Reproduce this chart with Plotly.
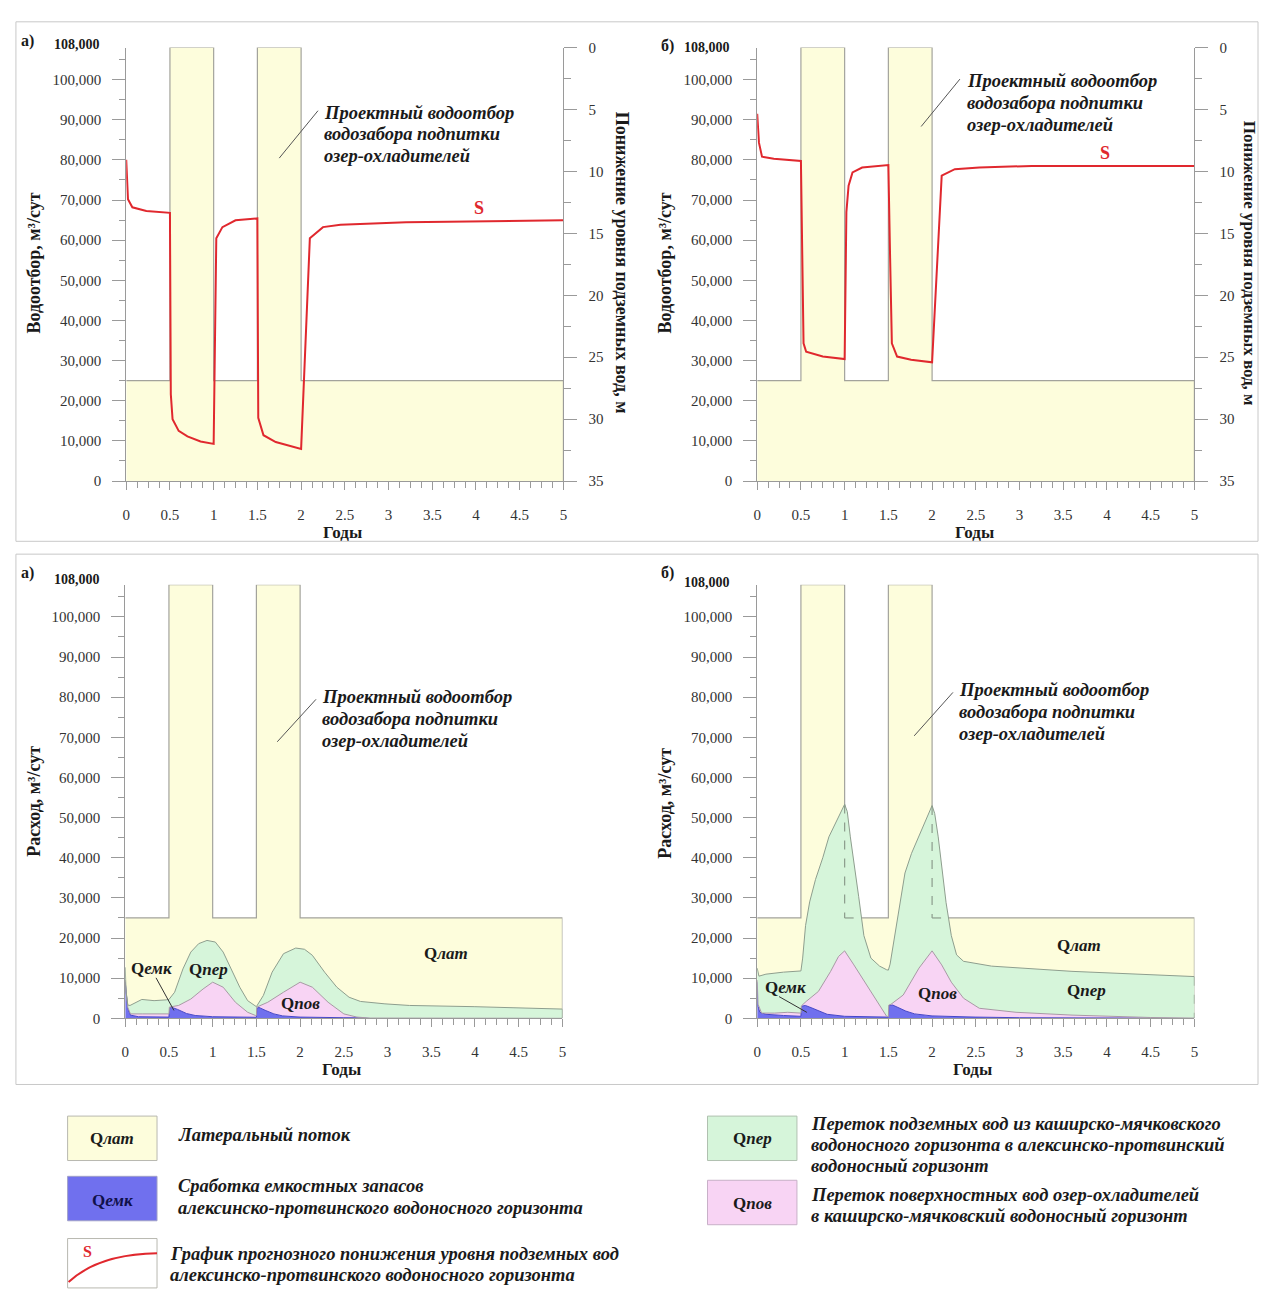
import numpy as np
import plotly.graph_objects as go

W, H = 1263, 1290

# ---------------- data ----------------
# design pumping schedule (total discharge, m3/day), step function
pump_t = [0.0, 0.5, 1.0, 1.5, 2.0, 5.0]
pump_q = [25000, 108000, 25000, 108000, 25000, 25000]

# drawdown S (m), panel a
s_a_t = [0, 0.02, 0.07, 0.23, 0.5, 0.51, 0.53, 0.55, 0.6, 0.7, 0.85, 1.0,
         1.01, 1.02, 1.03, 1.1, 1.25, 1.5, 1.51, 1.57, 1.71, 2.0,
         2.1, 2.25, 2.45, 3.2, 5.0]
s_a_v = [9.07, 12.25, 12.90, 13.19, 13.35, 28.0, 30.0, 30.3, 30.95, 31.4, 31.8, 32.0,
         25.0, 18.5, 15.4, 14.5, 13.95, 13.8, 29.9, 31.3, 31.85, 32.4,
         15.4, 14.5, 14.3, 14.1, 13.95]

# drawdown S (m), panel b
s_b_t = [0, 0.02, 0.055, 0.19, 0.5, 0.53, 0.56, 0.75, 1.0,
         1.02, 1.045, 1.09, 1.2, 1.5, 1.52, 1.54, 1.6, 1.76, 2.0,
         2.11, 2.26, 2.54, 3.14, 5.0]
s_b_v = [5.35, 7.68, 8.81, 8.98, 9.16, 23.88, 24.56, 24.95, 25.15,
         13.29, 11.15, 10.08, 9.69, 9.49, 16.98, 23.88, 24.95, 25.21, 25.41,
         10.34, 9.82, 9.69, 9.56, 9.56]

# balance, panel a (cumulative upper boundaries of layers, m3/day)
a_emk_t = [0, 0.01, 0.03, 0.06, 0.15, 0.5, 0.505, 0.53, 0.6, 0.7, 0.8, 1.0, 1.5,
           1.505, 1.53, 1.6, 1.7, 1.8, 2.0, 2.5, 3.0, 4.2, 5.0]
a_emk_v = [9000, 6000, 2500, 800, 400, 300, 2500, 2750, 2200, 1200, 700, 400, 250,
           2500, 2700, 2000, 1100, 600, 300, 150, 60, 0, 0]
a_pov_t = [0, 0.01, 0.03, 0.06, 0.2, 0.5, 0.505, 0.61, 0.75, 0.89, 1.0, 1.12, 1.26, 1.4, 1.49,
           1.5, 1.505, 1.63, 1.81, 2.0, 2.14, 2.32, 2.5, 2.65, 2.8, 5.0]
a_pov_v = [9500, 6200, 2700, 1100, 1100, 1100, 2800, 3200, 4800, 7300, 9000, 7750, 4000, 1500, 700,
           700, 2800, 4000, 6500, 9000, 7750, 4000, 1100, 300, 60, 0]
a_per_t = [0, 0.01, 0.03, 0.055, 0.19, 0.33, 0.47, 0.5, 0.565, 0.66, 0.75, 0.84, 0.935, 1.03,
           1.12, 1.21, 1.31, 1.4, 1.5, 1.58, 1.68, 1.81, 1.95, 2.05, 2.14, 2.28, 2.42,
           2.56, 2.69, 2.97, 3.25, 3.99, 5.0]
a_per_v = [12700, 6500, 3300, 3200, 4700, 4400, 4600, 4700, 6500, 12300, 16500, 18600, 19400, 19000,
           16500, 12300, 7750, 4400, 2900, 5700, 11500, 16100, 17500, 17200, 15700, 11500, 7750,
           5250, 4200, 3600, 3200, 2900, 2300]

# balance, panel b
b_emk_t = [0, 0.01, 0.03, 0.1, 0.3, 0.5, 0.505, 0.55, 0.6, 0.7, 0.8, 1.0, 1.5,
           1.505, 1.55, 1.6, 1.7, 1.8, 2.0, 2.5, 3.0, 4.5, 4.8, 5.0]
b_emk_v = [9000, 3000, 1500, 1000, 700, 500, 3000, 3200, 2800, 1800, 1000, 500, 300,
           3200, 3300, 2800, 1800, 1100, 600, 300, 150, 50, 0, 0]
b_pov_t = [0, 0.01, 0.05, 0.2, 0.35, 0.5, 0.505, 0.56, 0.7, 0.84, 0.93, 1.0, 1.1, 1.2, 1.3,
           1.4, 1.48, 1.5, 1.505, 1.53, 1.67, 1.85, 2.0, 2.11, 2.22, 2.36, 2.54, 2.96,
           3.6, 4.5, 5.0]
b_pov_v = [9500, 3500, 1300, 1300, 1500, 1300, 3100, 4200, 6700, 11700, 15400, 16800, 13500, 10000, 6500,
           3000, 500, 350, 3300, 3500, 5800, 12500, 16800, 13300, 9000, 5000, 2500, 1500,
           800, 200, 50]
b_per_t = [0, 0.02, 0.1, 0.3, 0.5, 0.52, 0.553, 0.6, 0.667, 0.75, 0.82, 0.9, 1.0, 1.03,
           1.065, 1.16, 1.22, 1.3, 1.4, 1.48, 1.5, 1.52, 1.56, 1.61, 1.69, 1.765, 1.9,
           2.0, 2.03, 2.07, 2.16, 2.22, 2.28, 2.36, 2.68, 3.6, 5.0]
b_per_v = [12500, 10500, 11000, 11500, 11800, 15000, 23100, 29000, 34600, 40000, 45200, 49000, 53300, 51500,
           45200, 30400, 20600, 15000, 13000, 12100, 12000, 13500, 19000, 24800, 36200, 41100, 48000,
           53000, 51000, 45200, 28800, 20600, 15800, 14200, 13000, 11700, 10400]

# ---------------- style ----------------
YELLOW = '#FDFDDC'
GREEN = '#D6F5DA'
PINK = '#F8D4F4'
BLUE = '#7070EE'
OUTLINE = '#A3A39C'
AXIS = '#9A9A9A'
RED = '#E0282E'
FONT = 'Liberation Serif'
TXT = '#1A1A1A'


def px(x):
    return x / W


def py(y):
    return 1 - y / H


fig = go.Figure()

# explicit step outline derived from the schedule (hv), closed down to zero at the end
step_x, step_y = [pump_t[0]], [pump_q[0]]
for i in range(1, len(pump_t)):
    step_x += [pump_t[i], pump_t[i]]
    step_y += [pump_q[i - 1], pump_q[i]]
step_x.append(pump_t[-1])
step_y.append(0)


def add_total(xa, ya):
    fig.add_trace(go.Scatter(x=step_x, y=step_y, mode='lines',
                             fill='tozeroy', fillcolor=YELLOW,
                             line=dict(color=OUTLINE, width=1.2),
                             xaxis=xa, yaxis=ya, hoverinfo='skip', showlegend=False))


def add_hidden_outline(xa, ya, top_t, top_v):
    """Dashed part of the total outline lying inside the Qпер area."""
    xs, ys = [], []
    for i in range(len(step_x) - 1):
        x0, y0, x1, y1 = step_x[i], step_y[i], step_x[i + 1], step_y[i + 1]
        if x0 == x1 and y0 == y1:
            continue
        f = np.linspace(0, 1, 400)
        sx = x0 + (x1 - x0) * f
        sy = y0 + (y1 - y0) * f
        inside = sy <= np.interp(sx, top_t, top_v)
        run = False
        for xx, yy, ok in zip(sx, sy, inside):
            if ok:
                xs.append(float(xx))
                ys.append(float(yy))
                run = True
            elif run:
                xs.append(None)
                ys.append(None)
                run = False
        if run:
            xs.append(None)
            ys.append(None)
    fig.add_trace(go.Scatter(x=xs, y=ys, mode='lines', connectgaps=False,
                             line=dict(color='#8C9C8C', width=1.2, dash='dash'),
                             xaxis=xa, yaxis=ya, hoverinfo='skip', showlegend=False))


# top panels
for xa, ya, ya2, st, sv in [('x', 'y', 'y2', s_a_t, s_a_v), ('x2', 'y3', 'y4', s_b_t, s_b_v)]:
    add_total(xa, ya)
    fig.add_trace(go.Scatter(x=st, y=sv, mode='lines', line=dict(color=RED, width=2),
                             xaxis=xa, yaxis=ya2, hoverinfo='skip', showlegend=False))

# bottom panels
for xa, ya, layers in [
    ('x3', 'y5', [(a_emk_t, a_emk_v), (a_pov_t, a_pov_v), (a_per_t, a_per_v)]),
    ('x4', 'y6', [(b_emk_t, b_emk_v), (b_pov_t, b_pov_v), (b_per_t, b_per_v)]),
]:
    add_total(xa, ya)
    (et, ev), (pt, pv), (rt, rv) = layers
    fig.add_trace(go.Scatter(x=et, y=ev, mode='lines', fill='tozeroy', fillcolor=BLUE,
                             line=dict(color='#4646C8', width=1), xaxis=xa, yaxis=ya,
                             hoverinfo='skip', showlegend=False))
    fig.add_trace(go.Scatter(x=pt, y=pv, mode='lines', fill='tonexty', fillcolor=PINK,
                             line=dict(color='#A898A6', width=1), xaxis=xa, yaxis=ya,
                             hoverinfo='skip', showlegend=False))
    fig.add_trace(go.Scatter(x=rt, y=rv, mode='lines', fill='tonexty', fillcolor=GREEN,
                             line=dict(color='#8E9E8E', width=1), xaxis=xa, yaxis=ya,
                             hoverinfo='skip', showlegend=False))
    add_hidden_outline(xa, ya, rt, rv)

# ---------------- axes ----------------
tickfont = dict(family=FONT, size=15, color='#333333')


def xax(x0, x1, anchor):
    return dict(domain=[px(x0), px(x1)], anchor=anchor, range=[0, 5], tick0=0, dtick=0.5,
                showgrid=False, zeroline=False, showline=True, linecolor=AXIS, linewidth=1,
                ticks='outside', ticklen=8, tickcolor=AXIS, tickfont=tickfont,
                ticklabelstandoff=12, fixedrange=True,
                minor=dict(dtick=0.125, tick0=0, ticks='outside', ticklen=6, tickcolor=AXIS))


def yax(y0, y1, anchor):
    return dict(domain=[py(y1), py(y0)], anchor=anchor, range=[0, 108000], tick0=0, dtick=10000,
                tickformat=',', showgrid=False, zeroline=False, showline=True, linecolor=AXIS,
                linewidth=1, ticks='outside', ticklen=13, tickcolor=AXIS, tickfont=tickfont,
                ticklabelstandoff=8, fixedrange=True,
                minor=dict(dtick=5000, tick0=0, ticks='outside', ticklen=6, tickcolor=AXIS))


def yax_r(overlay, anchor):
    return dict(overlaying=overlay, anchor=anchor, side='right', range=[35, 0], tick0=0, dtick=5,
                showgrid=False, zeroline=False, showline=True, linecolor=AXIS, linewidth=1,
                ticks='outside', ticklen=13, tickcolor=AXIS, tickfont=tickfont,
                ticklabelstandoff=8, fixedrange=True,
                minor=dict(dtick=2.5, tick0=0, ticks='outside', ticklen=7, tickcolor=AXIS))


fig.update_layout(
    xaxis=xax(123, 563, 'y'), yaxis=yax(40, 479, 'x'), yaxis2=yax_r('y', 'x'),
    xaxis2=xax(758, 1198, 'y3'), yaxis3=yax(40, 479, 'x2'), yaxis4=yax_r('y3', 'x2'),
    xaxis3=xax(122, 562, 'y5'), yaxis5=yax(584, 1023, 'x3'),
    xaxis4=xax(758, 1198, 'y6'), yaxis6=yax(584, 1023, 'x4'),
)

# ---------------- text ----------------
ann = []


def text(x, y, s, size=16, bold=True, italic=False, color=TXT, xanchor='center', yanchor='middle',
         angle=0, align='center'):
    t = s
    if italic:
        t = '<i>' + t + '</i>'
    if bold:
        t = '<b>' + t + '</b>'
    ann.append(dict(x=px(x), y=py(y), xref='paper', yref='paper', text=t, showarrow=False,
                    font=dict(family=FONT, size=size, color=color), xanchor=xanchor,
                    yanchor=yanchor, textangle=angle, align=align))


def lines(x, ys, rows, size=18.5):
    for yy, row in zip(ys, rows):
        text(x, yy, row, size, italic=True, xanchor='left', align='left')


# panel labels
text(24, 33, 'а)', 16)
text(668, 38, 'б)', 16)
text(24, 572, 'а)', 16)
text(668, 572, 'б)', 16)
# top tick labels 108,000
text(99, 37, '108,000', 14, xanchor='right')
text(733, 40, '108,000', 14, xanchor='right')
text(99, 579, '108,000', 14, xanchor='right')
text(733, 582, '108,000', 14, xanchor='right')
# axis titles
text(30, 258, 'Водоотбор, м³/сут', 18, angle=-90)
text(665, 258, 'Водоотбор, м³/сут', 18, angle=-90)
text(30, 803, 'Расход, м³/сут', 18, angle=-90)
text(665, 805, 'Расход, м³/сут', 18, angle=-90)
text(622, 258, 'Понижение уровня подземных вод, м', 18, angle=90)
text(1253, 258, 'Понижение уровня подземных вод, м', 17, angle=90)
text(341, 531, 'Годы', 17)
text(977, 531, 'Годы', 17)
text(340, 1075, 'Годы', 17)
text(975, 1075, 'Годы', 17)

# callouts
callout = ['Проектный водоотбор', 'водозабора подпитки', 'озер-охладителей']
lines(320, [106, 128, 150], callout)
lines(967, [74, 96, 118], callout)
lines(318, [698, 720, 742], callout)
lines(959, [691, 713, 735], callout)

# S labels
text(478, 203, 'S', 18, color=RED)
text(1108, 147, 'S', 18, color=RED)


def q(sub):
    return 'Q<i>' + sub + '</i>'


# layer labels
text(148, 973, q('емк'), 17)
text(206, 974, q('пер'), 17)
text(445, 957, q('лат'), 17)
text(298, 1008, q('пов'), 17)
text(786, 992, q('емк'), 17)
text(939, 998, q('пов'), 17)
text(1082, 949, q('лат'), 17)
text(1089, 995, q('пер'), 17)

# legend
text(109, 1145, q('лат'), 17)
text(109, 1207, q('емк'), 17, color='#10104A')
text(753, 1145, q('пер'), 17)
text(753, 1211, q('пов'), 17)
text(84, 1259, 'S', 16, color=RED)
lines(173, [1141], ['Латеральный поток'])
lines(173, [1193, 1215], ['Сработка емкостных запасов', 'алексинско-протвинского водоносного горизонта'])
lines(165, [1262, 1283], ['График прогнозного понижения уровня подземных вод',
                          'алексинско-протвинского водоносного горизонта'])
lines(810, [1130, 1151, 1173], ['Переток подземных вод из каширско-мячковского',
                                'водоносного горизонта в алексинско-протвинский',
                                'водоносный горизонт'])
lines(810, [1202, 1223], ['Переток поверхностных вод озер-охладителей',
                          'в каширско-мячковский водоносный горизонт'])

# ---------------- shapes ----------------
shapes = []


def line(x0, y0, x1, y1, color='#555555', width=1):
    shapes.append(dict(type='line', xref='paper', yref='paper', x0=px(x0), y0=py(y0), x1=px(x1), y1=py(y1),
                       line=dict(color=color, width=width)))


def rect(x0, y0, x1, y1, fill=None, color='#C8C8C8', width=1):
    d = dict(type='rect', xref='paper', yref='paper', x0=px(x0), y0=py(y0), x1=px(x1), y1=py(y1),
             line=dict(color=color, width=width))
    if fill:
        d['fillcolor'] = fill
    shapes.append(d)


# frames
rect(12, 14, 1262, 540)
rect(12, 553, 1262, 1090)
# callout leaders
line(316, 104, 277, 152)
line(962, 72, 923, 120)
line(314, 700, 275, 743)
line(955, 693, 916, 737)
# Qемк leaders
line(153, 982, 171, 1015, color='#333333')
line(780, 1001, 808, 1017, color='#333333')
# legend boxes
rect(64, 1122, 154, 1167, fill=YELLOW, color='#B8B8B0')
rect(64, 1183, 154, 1228, fill=BLUE, color='#A0A0C8')
rect(64, 1246, 154, 1296, fill='white', color='#B8B8B0')
rect(708, 1122, 798, 1167, fill=GREEN, color='#B0C0B0')
rect(708, 1187, 798, 1232, fill=PINK, color='#C8B0C8')
shapes.append(dict(type='path', xref='paper', yref='paper',
                   path='M %.5f,%.5f Q %.5f,%.5f %.5f,%.5f' % (px(65), py(1290), px(95), py(1262), px(154), py(1261)),
                   line=dict(color=RED, width=2)))

fig.update_layout(
    width=W, height=H, margin=dict(l=0, r=0, t=0, b=0),
    paper_bgcolor='white', plot_bgcolor='rgba(0,0,0,0)',
    annotations=ann, shapes=shapes, showlegend=False, hovermode=False,
)

fig.write_html('out.html', config={'displayModeBar': False, 'staticPlot': True},
               post_script="document.body.style.margin='0';document.body.style.overflow='hidden';")
